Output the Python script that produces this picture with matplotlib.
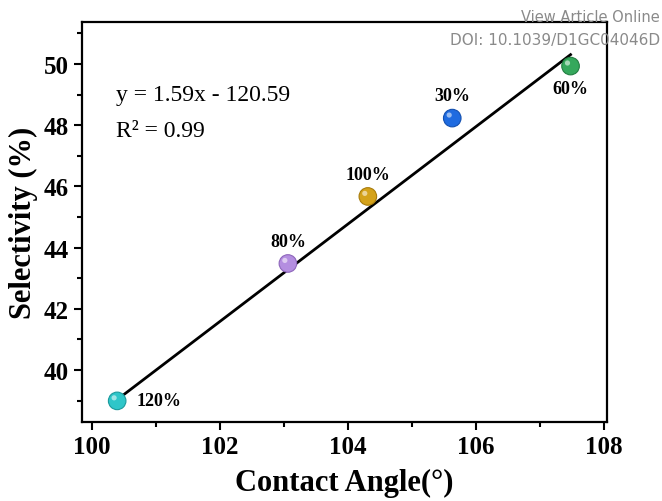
import numpy as np
import matplotlib
matplotlib.use('Agg')
import matplotlib.pyplot as plt
from matplotlib.ticker import MultipleLocator
from matplotlib.transforms import offset_copy

# contact angle vs selectivity
contact_angle = [100.39, 103.06, 104.31, 105.63, 107.48]
selectivity = [38.99, 43.48, 45.67, 48.23, 49.93]
labels = ['120%', '80%', '100%', '30%', '60%']
colors = ['#2fc6c9', '#b48ee0', '#d4a21a', '#1f6be0', '#35a85c']
edge_colors = ['#1b9a9d', '#8e66bb', '#a87c0c', '#1450b0', '#237e42']
slope, intercept = 1.59, -120.59

plt.rcParams['font.family'] = ['Liberation Serif', 'DejaVu Serif']

fig = plt.figure(figsize=(6.62, 5.02), dpi=100)
ax = fig.add_axes([82/662, 1 - 423/502, 525/662, 400/502])

# fit line
xfit = np.array([min(contact_angle), max(contact_angle)])
ax.plot(xfit, slope * xfit + intercept, color='black', lw=2, zorder=2)

# shaded "sphere" markers
ax.scatter(contact_angle, selectivity, s=160, c=colors, zorder=3,
           edgecolors=edge_colors, linewidths=0.8)
hl = offset_copy(ax.transData, fig=fig, x=-2.2, y=2.2, units='points')
ax.scatter(contact_angle, selectivity, s=14, c='white', alpha=0.55, zorder=4,
           edgecolors='none', transform=hl)

offsets = [(14, 0, 'left', 'center'), (0, 10, 'center', 'bottom'),
           (0, 10, 'center', 'bottom'), (0, 10, 'center', 'bottom'),
           (0, -10, 'center', 'top')]
for x, y, lab, (dx, dy, ha, va) in zip(contact_angle, selectivity, labels, offsets):
    ax.annotate(lab, (x, y), xytext=(dx, dy), textcoords='offset points',
                ha=ha, va=va, fontsize=13, fontweight='bold')

ax.text(0.065, 0.805, 'y = 1.59x - 120.59', transform=ax.transAxes, fontsize=17)
ax.text(0.065, 0.715, 'R² = 0.99', transform=ax.transAxes, fontsize=17)

ax.set_xlim(99.84, 108.05)
ax.set_ylim(38.3, 51.37)
ax.xaxis.set_major_locator(MultipleLocator(2))
ax.xaxis.set_minor_locator(MultipleLocator(1))
ax.yaxis.set_major_locator(MultipleLocator(2))
ax.yaxis.set_minor_locator(MultipleLocator(1))
ax.tick_params(which='major', direction='out', length=6, width=1.5, labelsize=18)
ax.tick_params(which='minor', direction='out', length=3.5, width=1.5)
for lbl in ax.get_xticklabels() + ax.get_yticklabels():
    lbl.set_fontweight('bold')
for sp in ax.spines.values():
    sp.set_linewidth(1.6)

ax.set_xlabel('Contact Angle(°)', fontsize=22, fontweight='bold', labelpad=7)
ax.set_ylabel('Selectivity (%)', fontsize=22, fontweight='bold', labelpad=4)

fig.text(0.997, 0.965, 'View Article Online', ha='right', va='center',
         fontsize=10.5, color='#8a8a8a', family='DejaVu Sans')
fig.text(0.997, 0.92, 'DOI: 10.1039/D1GC04046D', ha='right', va='center',
         fontsize=11, color='#8a8a8a', family='DejaVu Sans')

fig.savefig('out.png', dpi=100)
